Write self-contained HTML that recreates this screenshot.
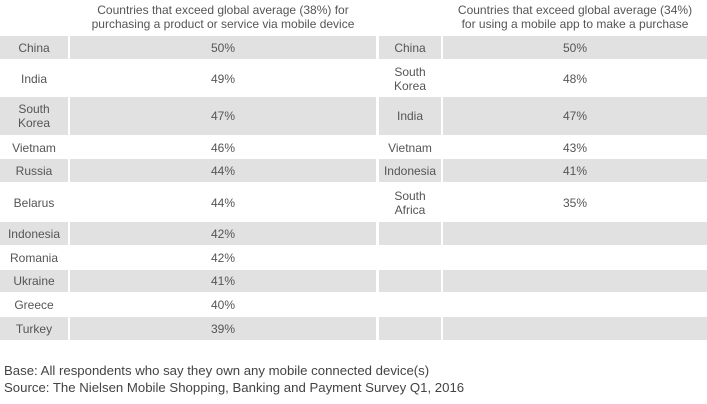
<!DOCTYPE html>
<html><head><meta charset="utf-8"><style>
body{margin:0;width:707px;height:404px;background:#fff;font-family:"Liberation Sans",Arial,sans-serif;color:#555;position:relative;overflow:hidden}
.h{position:absolute;top:3px;font-size:12px;line-height:14px;text-align:center;color:#555}
.c{position:absolute;display:flex;align-items:center;justify-content:center;text-align:center;font-size:12px;line-height:14px}
.foot{position:absolute;left:4px;font-size:13.2px;color:#444}
</style></head><body>
<div class="h" style="left:70px;width:306px">Countries that exceed global average (38%) for<br>purchasing a product or service via mobile device</div>
<div class="h" style="left:443px;width:264px">Countries that exceed global average (34%)<br>for using a mobile app to make a purchase</div>
<div id="tables"></div>
<div class="foot" style="top:363px">Base: All respondents who say they own any mobile connected device(s)</div>
<div class="foot" style="top:380px">Source: The Nielsen Mobile Shopping, Banking and Payment Survey Q1, 2016</div>
<script>
const leftCountries=["China","India","South<br>Korea","Vietnam","Russia","Belarus","Indonesia","Romania","Ukraine","Greece","Turkey"];
const leftValues=[50,49,47,46,44,44,42,42,41,40,39];
const rightCountries=["China","South<br>Korea","India","Vietnam","Indonesia","South<br>Africa","","","","",""];
const rightValues=[50,48,47,43,41,35,null,null,null,null,null];
const rowTops=[36,60,97,136,159,183,222,246,270,293,317,341];
const root=document.getElementById('tables');
function cell(x,y,w,h,txt,gray,name){
  const d=document.createElement('div');
  d.className='c';
  
  
  d.style.left=x+'px';d.style.top=y+'px';d.style.width=w+'px';d.style.height=h+'px';
  if(gray)d.style.background='#e1e1e1';
  d.innerHTML=txt;root.appendChild(d);
}
for(let i=0;i<leftCountries.length;i++){
  const y=rowTops[i],h=rowTops[i+1]-rowTops[i]-(i%2==0?1:0),g=i%2==0;
  cell(0,y,68,h,leftCountries[i],g,'left-country-cell');
  cell(70,y,306,h,leftValues[i]+'%',g,'left-value-cell');
  cell(379,y,62,h,rightCountries[i],g,'right-country-cell');
  cell(443,y,264,h,rightValues[i]==null?'':rightValues[i]+'%',g,'right-value-cell');
}
</script>
</body></html>
